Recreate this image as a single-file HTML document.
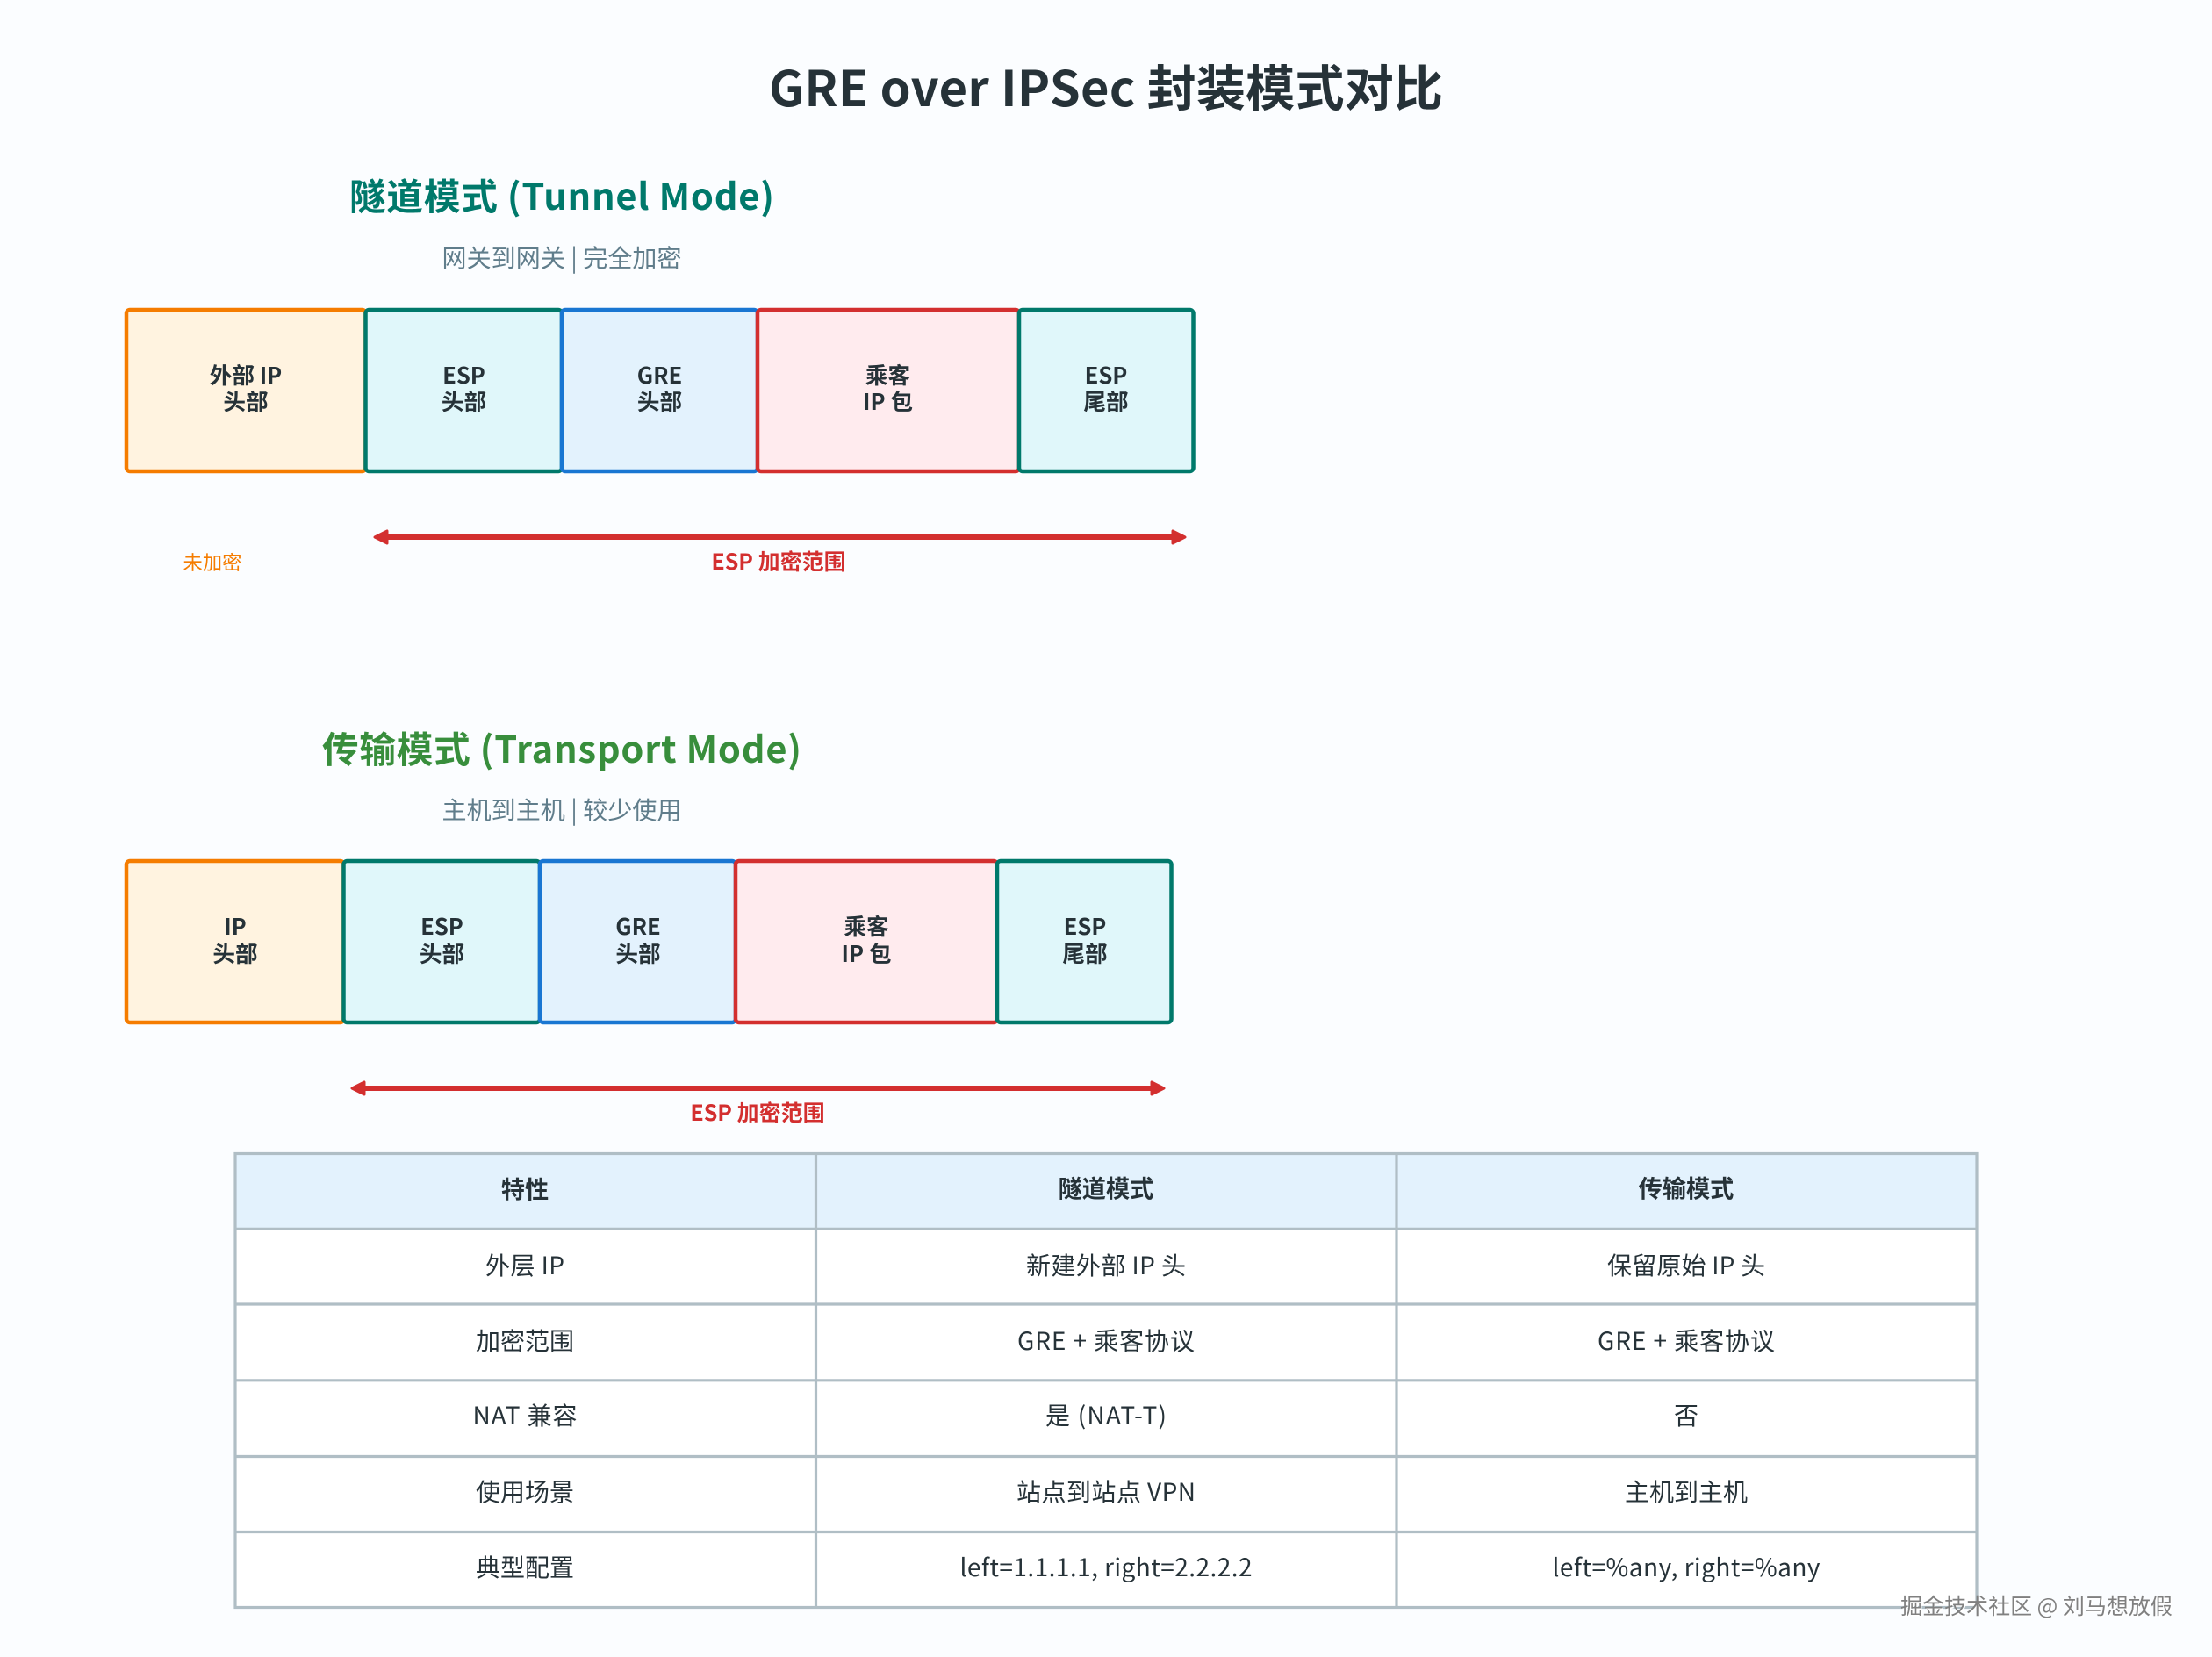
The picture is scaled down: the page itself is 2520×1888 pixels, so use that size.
<!DOCTYPE html>
<html lang="zh"><head><meta charset="utf-8"><title>GRE over IPSec 封装模式对比</title>
<style>
html,body{margin:0;padding:0;background:#fbfdff}
svg{display:block}
text{font-family:"Noto Sans CJK SC","Liberation Sans",sans-serif;text-anchor:middle}
.b{font-size:25.6px;font-weight:700;fill:#263238}
.h{font-size:41.6px;font-weight:700}
.s{font-size:28px;fill:#607d8b}
.e{font-size:25px;font-weight:700;fill:#d32f2f}
.t{font-size:28px;fill:#263238}
.th{font-size:27.2px;font-weight:700;fill:#263238}
.box{stroke-width:4.5}
.o{fill:#fff3e0;stroke:#f57c00}.g{fill:#e0f7fa;stroke:#00796b}.l{fill:#e3f2fd;stroke:#1976d2}.r{fill:#ffebee;stroke:#d32f2f}
</style></head><body>
<svg width="2520" height="1888" viewBox="0 0 2520 1888" xmlns="http://www.w3.org/2000/svg">
<rect width="2520" height="1888" fill="#fbfdff"/>
<text x="1260" y="121" font-size="56" font-weight="700" fill="#263238" textLength="768">GRE over IPSec 封装模式对比</text>

<text x="640" y="239" class="h" fill="#00796b" textLength="484">隧道模式 (Tunnel Mode)</text>
<text x="640" y="304" class="s" textLength="273">网关到网关 | 完全加密</text>
<g class="box">
<rect x="144" y="353" width="272.500" height="184" rx="4" class="o"/>
<rect x="416.500" y="353" width="223.500" height="184" rx="4" class="g"/>
<rect x="640" y="353" width="223" height="184" rx="4" class="l"/>
<rect x="863" y="353" width="298" height="184" rx="4" class="r"/>
<rect x="1161" y="353" width="198.500" height="184" rx="4" class="g"/>
</g>
<text x="280" y="437" class="b">外部 IP</text><text x="280" y="467" class="b">头部</text>
<text x="528.500" y="437" class="b">ESP</text><text x="528.500" y="467" class="b">头部</text>
<text x="751.500" y="437" class="b">GRE</text><text x="751.500" y="467" class="b">头部</text>
<text x="1011.500" y="437" class="b">乘客</text><text x="1011.500" y="467" class="b">IP 包</text>
<text x="1260" y="437" class="b">ESP</text><text x="1260" y="467" class="b">尾部</text>
<line x1="436" y1="612" x2="1340" y2="612" stroke="#d32f2f" stroke-width="6"/>
<path d="M427 612L441 605V619ZM1350 612L1336 605V619Z" fill="#d32f2f" stroke="#d32f2f" stroke-width="3" stroke-linejoin="round"/>
<text x="887" y="649" class="e">ESP 加密范围</text>
<text x="242" y="649" font-size="22.400" fill="#f57c00">未加密</text>

<text x="640" y="869" class="h" fill="#388e3c" textLength="546">传输模式 (Transport Mode)</text>
<text x="640" y="933" class="s" textLength="273">主机到主机 | 较少使用</text>
<g class="box">
<rect x="144" y="981" width="247.500" height="184" rx="4" class="o"/>
<rect x="391.500" y="981" width="223.500" height="184" rx="4" class="g"/>
<rect x="615" y="981" width="223" height="184" rx="4" class="l"/>
<rect x="838" y="981" width="298" height="184" rx="4" class="r"/>
<rect x="1136" y="981" width="198.500" height="184" rx="4" class="g"/>
</g>
<text x="268" y="1065" class="b">IP</text><text x="268" y="1096" class="b">头部</text>
<text x="503.500" y="1065" class="b">ESP</text><text x="503.500" y="1096" class="b">头部</text>
<text x="727" y="1065" class="b">GRE</text><text x="727" y="1096" class="b">头部</text>
<text x="987" y="1065" class="b">乘客</text><text x="987" y="1096" class="b">IP 包</text>
<text x="1236" y="1065" class="b">ESP</text><text x="1236" y="1096" class="b">尾部</text>
<line x1="412" y1="1240" x2="1316" y2="1240" stroke="#d32f2f" stroke-width="6"/>
<path d="M401 1240L415 1233V1247ZM1326 1240L1312 1233V1247Z" fill="#d32f2f" stroke="#d32f2f" stroke-width="3" stroke-linejoin="round"/>
<text x="863" y="1277" class="e">ESP 加密范围</text>

<rect x="268" y="1314" width="1984" height="517" fill="#fff"/>
<rect x="268" y="1314" width="1984" height="86" fill="#e3f2fd"/>
<g stroke="#b0bec5" stroke-width="3.200" fill="none">
<rect x="268" y="1314.500" width="1984" height="517"/>
<path d="M268 1400.300H2252M268 1486H2252M268 1572.800H2252M268 1659.500H2252M268 1745.500H2252M929.500 1314V1831M1591 1314V1831"/>
</g>
<text x="598" y="1365" class="th">特性</text><text x="1260" y="1364" class="th">隧道模式</text><text x="1921" y="1364" class="th">传输模式</text>
<text x="598" y="1452" class="t" textLength="90">外层 IP</text><text x="1260" y="1452" class="t" textLength="182">新建外部 IP 头</text><text x="1921" y="1452" class="t" textLength="180">保留原始 IP 头</text>
<text x="598" y="1538" class="t">加密范围</text><text x="1260" y="1538" class="t" textLength="202">GRE + 乘客协议</text><text x="1921" y="1538" class="t" textLength="202">GRE + 乘客协议</text>
<text x="598" y="1623" class="t" textLength="119">NAT 兼容</text><text x="1260" y="1623" class="t" textLength="138">是 (NAT-T)</text><text x="1921" y="1623" class="t">否</text>
<text x="598" y="1710" class="t">使用场景</text><text x="1260" y="1710" class="t" textLength="204">站点到站点 VPN</text><text x="1921" y="1710" class="t">主机到主机</text>
<text x="598" y="1796" class="t">典型配置</text><text x="1260" y="1796" class="t" textLength="333">left=1.1.1.1, right=2.2.2.2</text><text x="1921" y="1796" class="t" textLength="305">left=%any, right=%any</text>

<text x="2320" y="1839" font-size="25" fill="#fff" dx="1.500" dy="1.500">掘金技术社区 @ 刘马想放假</text>
<text x="2320" y="1839" font-size="25" fill="#808080">掘金技术社区 @ 刘马想放假</text>
</svg></body></html>
